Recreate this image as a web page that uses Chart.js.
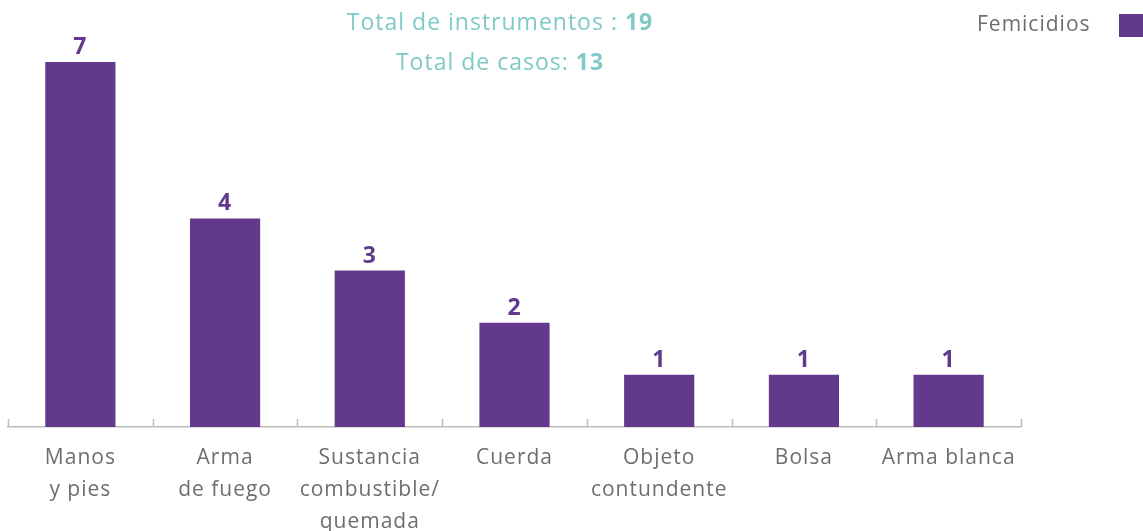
<!DOCTYPE html>
<html>
<head>
<meta charset="utf-8">
<script src="https://cdn.jsdelivr.net/npm/chart.js@4"></script>
<style>
html,body{margin:0;padding:0;background:#fff;}
#wrap{width:1143px;height:531px;position:relative;}
</style>
</head>
<body>
<div id="wrap"><canvas id="c" width="1143" height="531"></canvas></div>
<script>
const categories = [
  ["Manos", "y pies"],
  ["Arma", "de fuego"],
  ["Sustancia", "combustible/", "quemada"],
  ["Cuerda"],
  ["Objeto", "contundente"],
  ["Bolsa"],
  ["Arma blanca"]
];
const femicidios = [7, 4, 3, 2, 1, 1, 1];
const seriesName = "Femicidios";
const titleLines = [
  ["Total de instrumentos : ", "19"],
  ["Total de casos: ", "13"]
];

const PURPLE = '#63398b';
const TEAL = '#7fc9c7';
const GRAY = '#6e6e6e';
const FONT = '"Open Sans", sans-serif';

const spacing = {
  id: 'spacing',
  beforeDraw(chart) { chart.ctx.letterSpacing = '1px'; }
};

const decor = {
  id: 'decor',
  afterDraw(chart) {
    const ctx = chart.ctx;
    const xs = chart.scales.x;
    const area = chart.chartArea;
    ctx.save();
    ctx.letterSpacing = '1px';
    // upward ticks at category boundaries
    ctx.strokeStyle = '#bdbdbd';
    ctx.lineWidth = 1.5;
    const n = categories.length;
    const step = xs.getPixelForValue(1) - xs.getPixelForValue(0);
    for (let i = 0; i <= n; i++) {
      const x = Math.round(xs.getPixelForValue(i) - step / 2) + 0.5;
      ctx.beginPath();
      ctx.moveTo(x, area.bottom);
      ctx.lineTo(x, area.bottom - 8);
      ctx.stroke();
    }
    // data labels
    const meta = chart.getDatasetMeta(0);
    ctx.fillStyle = PURPLE;
    ctx.font = 'bold 23px ' + FONT;
    ctx.textAlign = 'center';
    ctx.textBaseline = 'alphabetic';
    meta.data.forEach((bar, i) => {
      ctx.fillText(String(femicidios[i]), bar.x, bar.y - 8);
    });
    // titles
    const cx = 500;
    const baselines = [29.5, 69.5];
    titleLines.forEach((parts, k) => {
      ctx.font = '23px ' + FONT;
      const w1 = ctx.measureText(parts[0]).width;
      ctx.font = 'bold 23px ' + FONT;
      const w2 = ctx.measureText(parts[1]).width;
      let x0 = cx - (w1 + w2) / 2;
      ctx.textAlign = 'left';
      ctx.fillStyle = TEAL;
      ctx.font = '23px ' + FONT;
      ctx.fillText(parts[0], x0, baselines[k]);
      ctx.font = 'bold 23px ' + FONT;
      ctx.fillText(parts[1], x0 + w1, baselines[k]);
    });
    // legend
    ctx.font = '21px ' + FONT;
    ctx.fillStyle = GRAY;
    ctx.textAlign = 'left';
    ctx.fillText(seriesName, 977, 31);
    ctx.fillStyle = PURPLE;
    ctx.fillRect(1119, 14, 30, 23);
    ctx.restore();
  }
};

new Chart(document.getElementById('c'), {
  type: 'bar',
  data: {
    labels: categories,
    datasets: [{
      label: seriesName,
      data: femicidios,
      backgroundColor: PURPLE,
      borderWidth: 0,
      barPercentage: 0.485,
      categoryPercentage: 1.0
    }]
  },
  options: {
    responsive: false,
    animation: false,
    layout: { padding: { top: 62, left: 8, right: 122, bottom: 0 } },
    plugins: { legend: { display: false }, title: { display: false }, tooltip: { enabled: false } },
    scales: {
      y: { display: false, min: 0, max: 7 },
      x: {
        afterFit(scale) { scale.height = 104; },
        border: { display: true, color: '#bdbdbd', width: 1.5 },
        grid: { display: false },
        ticks: {
          color: GRAY,
          font: { family: FONT, size: 21, lineHeight: 1.52 },
          padding: 7,
          maxRotation: 0,
          autoSkip: false
        }
      }
    }
  },
  plugins: [spacing, decor]
});
</script>
</body>
</html>
